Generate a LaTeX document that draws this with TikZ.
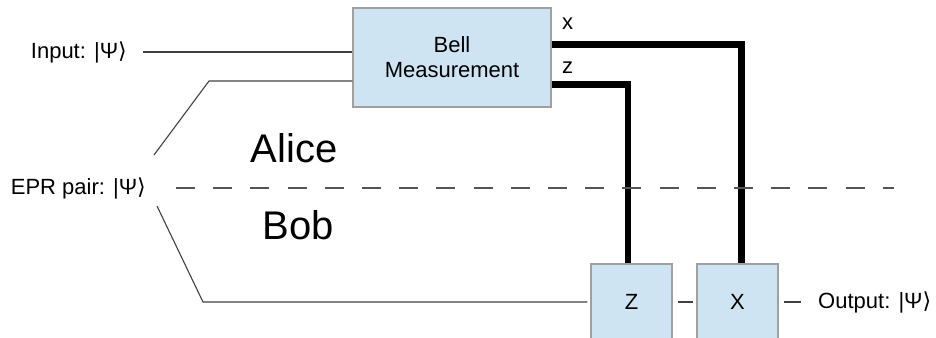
\documentclass[tikz,border=0pt]{standalone}
\usepackage{fontspec}
\setmainfont{Liberation Sans}
\newfontfamily\symfont{DejaVu Sans}
\definecolor{boxblue}{RGB}{207, 228, 243}
\definecolor{boxgrey}{RGB}{160, 160, 160}
\definecolor{wiregrey}{RGB}{85, 85, 85}
\newcommand{\psiket}{|Ψ{\symfont\char"27E9}}

\begin{document}
\begin{tikzpicture}[x=1pt, y=-1pt,
        gate/.style={draw=boxgrey, fill=boxblue, line width=1.2pt, font=\fontsize{22}{25}\selectfont},
        wire/.style={draw=black!75, line width=1.1pt},
        cwire/.style={draw=black, line width=6.5pt},
        lbl/.style={font=\fontsize{22}{25}\selectfont, inner sep=0pt},
        big/.style={font=\fontsize{40}{48}\selectfont, inner sep=0pt}]
        \useasboundingbox (0,0) rectangle (936,337);

        % Bell measurement box
        \node[gate, minimum width=198pt, minimum height=99pt, align=center] (bell) at (452,57.5) {Bell\\Measurement};

        % Z and X correction boxes (cut off at the bottom)
        \node[gate, minimum width=81pt, minimum height=76pt] (zgate) at (631.5,302) {Z};
        \node[gate, minimum width=81pt, minimum height=76pt] (xgate) at (737.5,302) {X};

        % Labels
        \node[lbl, anchor=east] (input) at (127,52) {Input: \psiket};
        \node[lbl, anchor=east] (epr) at (146,188) {EPR pair: \psiket};
        \node[lbl, anchor=west] (output) at (818,302) {Output: \psiket};
        \node[lbl, anchor=base west] (xbit) at (562,30) {x};
        \node[lbl, anchor=base west] (zbit) at (562,74) {z};
        \node[big, anchor=base] (alice) at (294,162) {Alice};
        \node[big, anchor=base] (bob) at (298,239) {Bob};

        % Bends of the EPR wires
        \coordinate (eprup) at (154,155);
        \coordinate (alicebend) at (209,81);
        \coordinate (eprdown) at (157,206);
        \coordinate (bobbend) at (203,302);
        \coordinate (divend) at (894,188);

        % Quantum wires
        \draw[wire] ([xshift=16pt]input.east) -- (input.east -| bell.west);
        \draw[wire] (eprup) -- (alicebend) -- (alicebend -| bell.west);
        \draw[wire] (eprdown) -- (bobbend) -- ([xshift=-3pt]zgate.west);
        \draw[wire] ([xshift=5pt]zgate.east) -- ([xshift=-3pt]xgate.west);
        \draw[wire] ([xshift=5pt]xgate.east) -- ([xshift=22pt]xgate.east);

        % Classical bits
        \draw[cwire] ([yshift=-37pt]bell.north east) -| ([xshift=4pt]xgate.north);
        \draw[cwire] ([yshift=-77pt]bell.north east) -| ([xshift=-3.5pt]zgate.north);

        % Alice / Bob divider
        \draw[wiregrey, line width=1.5pt, dash pattern=on 19pt off 18.2pt] ([xshift=30pt]epr.east) -- (divend);
    \end{tikzpicture}
\end{document}
